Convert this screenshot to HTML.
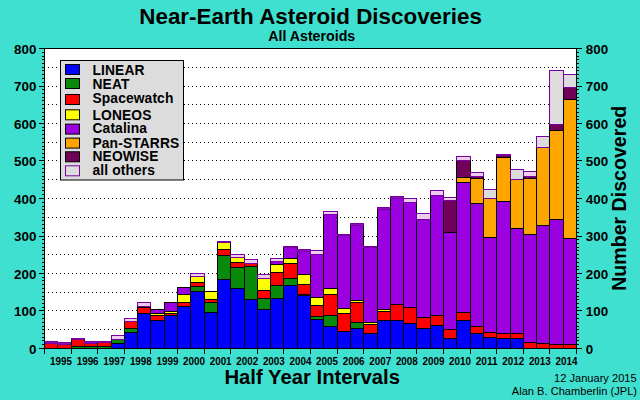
<!DOCTYPE html><html><head><meta charset="utf-8"><style>
html,body{margin:0;padding:0;background:#40e0d0;}
svg{display:block;}
text{font-family:"Liberation Sans",sans-serif;}
</style></head><body>
<svg width="640" height="400" viewBox="0 0 640 400">
<rect x="0" y="0" width="640" height="400" fill="#40e0d0"/>
<rect x="44" y="48" width="532" height="300" fill="#ffffff"/>
<path d="M48 329.5H576M48 310.5H576M48 292.5H576M48 273.5H576M48 254.5H576M48 236.5H576M48 217.5H576M48 198.5H576M48 179.5H576M48 160.5H576M48 142.5H576M48 123.5H576M48 104.5H576M48 86.5H576M48 67.5H576" stroke="#000" stroke-width="1" stroke-dasharray="1 3" fill="none"/>
<rect x="44.50" y="343.50" width="13.00" height="5.00" fill="#ff0000" stroke="#000" stroke-width="1"/>
<rect x="44.50" y="341.50" width="13.00" height="2.00" fill="#8a10b8" stroke="#7800a0" stroke-width="1"/>
<rect x="57.50" y="344.50" width="14.00" height="4.00" fill="#ff0000" stroke="#000" stroke-width="1"/>
<rect x="57.50" y="342.50" width="14.00" height="2.00" fill="#8a10b8" stroke="#7800a0" stroke-width="1"/>
<rect x="71.50" y="346.50" width="13.00" height="2.00" fill="#0a8a0a" stroke="#000" stroke-width="1"/>
<rect x="71.50" y="339.50" width="13.00" height="7.00" fill="#ff0000" stroke="#000" stroke-width="1"/>
<rect x="71.50" y="338.50" width="13.00" height="1.00" fill="#8a10b8" stroke="#7800a0" stroke-width="1"/>
<rect x="84.50" y="346.50" width="13.00" height="2.00" fill="#0a8a0a" stroke="#000" stroke-width="1"/>
<rect x="84.50" y="343.50" width="13.00" height="3.00" fill="#ff0000" stroke="#000" stroke-width="1"/>
<rect x="84.50" y="341.50" width="13.00" height="2.00" fill="#8a10b8" stroke="#7800a0" stroke-width="1"/>
<rect x="97.50" y="346.50" width="14.00" height="2.00" fill="#0a8a0a" stroke="#000" stroke-width="1"/>
<rect x="97.50" y="342.50" width="14.00" height="4.00" fill="#ff0000" stroke="#000" stroke-width="1"/>
<rect x="97.50" y="341.50" width="14.00" height="1.00" fill="#8a10b8" stroke="#7800a0" stroke-width="1"/>
<rect x="111.50" y="343.50" width="13.00" height="5.00" fill="#0000ff" stroke="#000" stroke-width="1"/>
<rect x="111.50" y="339.50" width="13.00" height="4.00" fill="#0a8a0a" stroke="#000" stroke-width="1"/>
<rect x="111.50" y="335.50" width="13.00" height="4.00" fill="#eccdec" stroke="#7800a0" stroke-width="1"/>
<rect x="124.50" y="332.50" width="13.00" height="16.00" fill="#0000ff" stroke="#000" stroke-width="1"/>
<rect x="124.50" y="328.50" width="13.00" height="4.00" fill="#0a8a0a" stroke="#000" stroke-width="1"/>
<rect x="124.50" y="321.50" width="13.00" height="7.00" fill="#ff0000" stroke="#000" stroke-width="1"/>
<rect x="124.50" y="318.50" width="13.00" height="3.00" fill="#eccdec" stroke="#7800a0" stroke-width="1"/>
<rect x="137.50" y="313.50" width="13.00" height="35.00" fill="#0000ff" stroke="#000" stroke-width="1"/>
<rect x="137.50" y="307.50" width="13.00" height="6.00" fill="#ff0000" stroke="#000" stroke-width="1"/>
<rect x="137.50" y="306.50" width="13.00" height="1.00" fill="#ffff00" stroke="#000" stroke-width="1"/>
<rect x="137.50" y="302.50" width="13.00" height="4.00" fill="#eccdec" stroke="#7800a0" stroke-width="1"/>
<rect x="150.50" y="320.50" width="14.00" height="28.00" fill="#0000ff" stroke="#000" stroke-width="1"/>
<rect x="150.50" y="315.50" width="14.00" height="5.00" fill="#ff0000" stroke="#000" stroke-width="1"/>
<rect x="150.50" y="313.50" width="14.00" height="2.00" fill="#ffff00" stroke="#000" stroke-width="1"/>
<rect x="150.50" y="309.50" width="14.00" height="4.00" fill="#9a00e0" stroke="#000" stroke-width="1"/>
<rect x="164.50" y="315.50" width="13.00" height="33.00" fill="#0000ff" stroke="#000" stroke-width="1"/>
<rect x="164.50" y="313.50" width="13.00" height="2.00" fill="#ff0000" stroke="#000" stroke-width="1"/>
<rect x="164.50" y="311.50" width="13.00" height="2.00" fill="#ffff00" stroke="#000" stroke-width="1"/>
<rect x="164.50" y="302.50" width="13.00" height="9.00" fill="#9a00e0" stroke="#000" stroke-width="1"/>
<rect x="177.50" y="306.50" width="13.00" height="42.00" fill="#0000ff" stroke="#000" stroke-width="1"/>
<rect x="177.50" y="302.50" width="13.00" height="4.00" fill="#ff0000" stroke="#000" stroke-width="1"/>
<rect x="177.50" y="294.50" width="13.00" height="8.00" fill="#ffff00" stroke="#000" stroke-width="1"/>
<rect x="177.50" y="287.50" width="13.00" height="7.00" fill="#9a00e0" stroke="#000" stroke-width="1"/>
<rect x="190.50" y="291.50" width="14.00" height="57.00" fill="#0000ff" stroke="#000" stroke-width="1"/>
<rect x="190.50" y="286.50" width="14.00" height="5.00" fill="#0a8a0a" stroke="#000" stroke-width="1"/>
<rect x="190.50" y="282.50" width="14.00" height="4.00" fill="#ff0000" stroke="#000" stroke-width="1"/>
<rect x="190.50" y="276.50" width="14.00" height="6.00" fill="#ffff00" stroke="#000" stroke-width="1"/>
<rect x="190.50" y="273.50" width="14.00" height="3.00" fill="#eccdec" stroke="#7800a0" stroke-width="1"/>
<rect x="204.50" y="312.50" width="13.00" height="36.00" fill="#0000ff" stroke="#000" stroke-width="1"/>
<rect x="204.50" y="302.50" width="13.00" height="10.00" fill="#0a8a0a" stroke="#000" stroke-width="1"/>
<rect x="204.50" y="299.50" width="13.00" height="3.00" fill="#ff0000" stroke="#000" stroke-width="1"/>
<rect x="204.50" y="291.50" width="13.00" height="8.00" fill="#ffff00" stroke="#000" stroke-width="1"/>
<rect x="217.50" y="279.50" width="13.00" height="69.00" fill="#0000ff" stroke="#000" stroke-width="1"/>
<rect x="217.50" y="255.50" width="13.00" height="24.00" fill="#0a8a0a" stroke="#000" stroke-width="1"/>
<rect x="217.50" y="249.50" width="13.00" height="6.00" fill="#ff0000" stroke="#000" stroke-width="1"/>
<rect x="217.50" y="242.50" width="13.00" height="7.00" fill="#ffff00" stroke="#000" stroke-width="1"/>
<rect x="217.50" y="241.50" width="13.00" height="1.00" fill="#8a10b8" stroke="#7800a0" stroke-width="1"/>
<rect x="230.50" y="288.50" width="14.00" height="60.00" fill="#0000ff" stroke="#000" stroke-width="1"/>
<rect x="230.50" y="267.50" width="14.00" height="21.00" fill="#0a8a0a" stroke="#000" stroke-width="1"/>
<rect x="230.50" y="262.50" width="14.00" height="5.00" fill="#ff0000" stroke="#000" stroke-width="1"/>
<rect x="230.50" y="257.50" width="14.00" height="5.00" fill="#ffff00" stroke="#000" stroke-width="1"/>
<rect x="230.50" y="254.50" width="14.00" height="3.00" fill="#eccdec" stroke="#7800a0" stroke-width="1"/>
<rect x="244.50" y="299.50" width="13.00" height="49.00" fill="#0000ff" stroke="#000" stroke-width="1"/>
<rect x="244.50" y="266.50" width="13.00" height="33.00" fill="#0a8a0a" stroke="#000" stroke-width="1"/>
<rect x="244.50" y="263.50" width="13.00" height="3.00" fill="#ff0000" stroke="#000" stroke-width="1"/>
<rect x="244.50" y="259.50" width="13.00" height="4.00" fill="#eccdec" stroke="#7800a0" stroke-width="1"/>
<rect x="257.50" y="309.50" width="13.00" height="39.00" fill="#0000ff" stroke="#000" stroke-width="1"/>
<rect x="257.50" y="298.50" width="13.00" height="11.00" fill="#0a8a0a" stroke="#000" stroke-width="1"/>
<rect x="257.50" y="290.50" width="13.00" height="8.00" fill="#ff0000" stroke="#000" stroke-width="1"/>
<rect x="257.50" y="278.50" width="13.00" height="12.00" fill="#ffff00" stroke="#000" stroke-width="1"/>
<rect x="257.50" y="274.50" width="13.00" height="4.00" fill="#eccdec" stroke="#7800a0" stroke-width="1"/>
<rect x="270.50" y="298.50" width="13.00" height="50.00" fill="#0000ff" stroke="#000" stroke-width="1"/>
<rect x="270.50" y="285.50" width="13.00" height="13.00" fill="#0a8a0a" stroke="#000" stroke-width="1"/>
<rect x="270.50" y="272.50" width="13.00" height="13.00" fill="#ff0000" stroke="#000" stroke-width="1"/>
<rect x="270.50" y="264.50" width="13.00" height="8.00" fill="#ffff00" stroke="#000" stroke-width="1"/>
<rect x="270.50" y="261.50" width="13.00" height="3.00" fill="#9a00e0" stroke="#000" stroke-width="1"/>
<rect x="270.50" y="258.50" width="13.00" height="3.00" fill="#eccdec" stroke="#7800a0" stroke-width="1"/>
<rect x="283.50" y="285.50" width="14.00" height="63.00" fill="#0000ff" stroke="#000" stroke-width="1"/>
<rect x="283.50" y="278.50" width="14.00" height="7.00" fill="#0a8a0a" stroke="#000" stroke-width="1"/>
<rect x="283.50" y="263.50" width="14.00" height="15.00" fill="#ff0000" stroke="#000" stroke-width="1"/>
<rect x="283.50" y="258.50" width="14.00" height="5.00" fill="#ffff00" stroke="#000" stroke-width="1"/>
<rect x="283.50" y="247.50" width="14.00" height="11.00" fill="#9a00e0" stroke="#000" stroke-width="1"/>
<rect x="283.50" y="246.50" width="14.00" height="1.00" fill="#8a10b8" stroke="#7800a0" stroke-width="1"/>
<rect x="297.50" y="295.50" width="13.00" height="53.00" fill="#0000ff" stroke="#000" stroke-width="1"/>
<rect x="297.50" y="294.50" width="13.00" height="1.00" fill="#0a8a0a" stroke="#000" stroke-width="1"/>
<rect x="297.50" y="284.50" width="13.00" height="10.00" fill="#ff0000" stroke="#000" stroke-width="1"/>
<rect x="297.50" y="274.50" width="13.00" height="10.00" fill="#ffff00" stroke="#000" stroke-width="1"/>
<rect x="297.50" y="251.50" width="13.00" height="23.00" fill="#9a00e0" stroke="#000" stroke-width="1"/>
<rect x="297.50" y="249.50" width="13.00" height="2.00" fill="#8a10b8" stroke="#7800a0" stroke-width="1"/>
<rect x="310.50" y="319.50" width="13.00" height="29.00" fill="#0000ff" stroke="#000" stroke-width="1"/>
<rect x="310.50" y="316.50" width="13.00" height="3.00" fill="#0a8a0a" stroke="#000" stroke-width="1"/>
<rect x="310.50" y="305.50" width="13.00" height="11.00" fill="#ff0000" stroke="#000" stroke-width="1"/>
<rect x="310.50" y="297.50" width="13.00" height="8.00" fill="#ffff00" stroke="#000" stroke-width="1"/>
<rect x="310.50" y="254.50" width="13.00" height="43.00" fill="#9a00e0" stroke="#000" stroke-width="1"/>
<rect x="310.50" y="250.50" width="13.00" height="4.00" fill="#eccdec" stroke="#7800a0" stroke-width="1"/>
<rect x="323.50" y="326.50" width="14.00" height="22.00" fill="#0000ff" stroke="#000" stroke-width="1"/>
<rect x="323.50" y="315.50" width="14.00" height="11.00" fill="#0a8a0a" stroke="#000" stroke-width="1"/>
<rect x="323.50" y="294.50" width="14.00" height="21.00" fill="#ff0000" stroke="#000" stroke-width="1"/>
<rect x="323.50" y="288.50" width="14.00" height="6.00" fill="#ffff00" stroke="#000" stroke-width="1"/>
<rect x="323.50" y="214.50" width="14.00" height="74.00" fill="#9a00e0" stroke="#000" stroke-width="1"/>
<rect x="323.50" y="211.50" width="14.00" height="3.00" fill="#eccdec" stroke="#7800a0" stroke-width="1"/>
<rect x="337.50" y="331.50" width="13.00" height="17.00" fill="#0000ff" stroke="#000" stroke-width="1"/>
<rect x="337.50" y="313.50" width="13.00" height="18.00" fill="#ff0000" stroke="#000" stroke-width="1"/>
<rect x="337.50" y="308.50" width="13.00" height="5.00" fill="#ffff00" stroke="#000" stroke-width="1"/>
<rect x="337.50" y="235.50" width="13.00" height="73.00" fill="#9a00e0" stroke="#000" stroke-width="1"/>
<rect x="337.50" y="234.50" width="13.00" height="1.00" fill="#8a10b8" stroke="#7800a0" stroke-width="1"/>
<rect x="350.50" y="328.50" width="13.00" height="20.00" fill="#0000ff" stroke="#000" stroke-width="1"/>
<rect x="350.50" y="322.50" width="13.00" height="6.00" fill="#0a8a0a" stroke="#000" stroke-width="1"/>
<rect x="350.50" y="302.50" width="13.00" height="20.00" fill="#ff0000" stroke="#000" stroke-width="1"/>
<rect x="350.50" y="300.50" width="13.00" height="2.00" fill="#ffff00" stroke="#000" stroke-width="1"/>
<rect x="350.50" y="225.50" width="13.00" height="75.00" fill="#9a00e0" stroke="#000" stroke-width="1"/>
<rect x="350.50" y="223.50" width="13.00" height="2.00" fill="#8a10b8" stroke="#7800a0" stroke-width="1"/>
<rect x="363.50" y="333.50" width="14.00" height="15.00" fill="#0000ff" stroke="#000" stroke-width="1"/>
<rect x="363.50" y="324.50" width="14.00" height="9.00" fill="#ff0000" stroke="#000" stroke-width="1"/>
<rect x="363.50" y="322.50" width="14.00" height="2.00" fill="#ffff00" stroke="#000" stroke-width="1"/>
<rect x="363.50" y="247.50" width="14.00" height="75.00" fill="#9a00e0" stroke="#000" stroke-width="1"/>
<rect x="363.50" y="246.50" width="14.00" height="1.00" fill="#8a10b8" stroke="#7800a0" stroke-width="1"/>
<rect x="377.50" y="320.50" width="13.00" height="28.00" fill="#0000ff" stroke="#000" stroke-width="1"/>
<rect x="377.50" y="311.50" width="13.00" height="9.00" fill="#ff0000" stroke="#000" stroke-width="1"/>
<rect x="377.50" y="309.50" width="13.00" height="2.00" fill="#ffff00" stroke="#000" stroke-width="1"/>
<rect x="377.50" y="209.50" width="13.00" height="100.00" fill="#9a00e0" stroke="#000" stroke-width="1"/>
<rect x="377.50" y="207.50" width="13.00" height="2.00" fill="#8a10b8" stroke="#7800a0" stroke-width="1"/>
<rect x="390.50" y="320.50" width="13.00" height="28.00" fill="#0000ff" stroke="#000" stroke-width="1"/>
<rect x="390.50" y="304.50" width="13.00" height="16.00" fill="#ff0000" stroke="#000" stroke-width="1"/>
<rect x="390.50" y="198.50" width="13.00" height="106.00" fill="#9a00e0" stroke="#000" stroke-width="1"/>
<rect x="390.50" y="196.50" width="13.00" height="2.00" fill="#8a10b8" stroke="#7800a0" stroke-width="1"/>
<rect x="403.50" y="323.50" width="13.00" height="25.00" fill="#0000ff" stroke="#000" stroke-width="1"/>
<rect x="403.50" y="307.50" width="13.00" height="16.00" fill="#ff0000" stroke="#000" stroke-width="1"/>
<rect x="403.50" y="202.50" width="13.00" height="105.00" fill="#9a00e0" stroke="#000" stroke-width="1"/>
<rect x="403.50" y="198.50" width="13.00" height="4.00" fill="#eccdec" stroke="#7800a0" stroke-width="1"/>
<rect x="416.50" y="328.50" width="14.00" height="20.00" fill="#0000ff" stroke="#000" stroke-width="1"/>
<rect x="416.50" y="317.50" width="14.00" height="11.00" fill="#ff0000" stroke="#000" stroke-width="1"/>
<rect x="416.50" y="219.50" width="14.00" height="98.00" fill="#9a00e0" stroke="#000" stroke-width="1"/>
<rect x="416.50" y="213.50" width="14.00" height="6.00" fill="#eccdec" stroke="#7800a0" stroke-width="1"/>
<rect x="430.50" y="325.50" width="13.00" height="23.00" fill="#0000ff" stroke="#000" stroke-width="1"/>
<rect x="430.50" y="315.50" width="13.00" height="10.00" fill="#ff0000" stroke="#000" stroke-width="1"/>
<rect x="430.50" y="195.50" width="13.00" height="120.00" fill="#9a00e0" stroke="#000" stroke-width="1"/>
<rect x="430.50" y="190.50" width="13.00" height="5.00" fill="#eccdec" stroke="#7800a0" stroke-width="1"/>
<rect x="443.50" y="338.50" width="13.00" height="10.00" fill="#0000ff" stroke="#000" stroke-width="1"/>
<rect x="443.50" y="329.50" width="13.00" height="9.00" fill="#ff0000" stroke="#000" stroke-width="1"/>
<rect x="443.50" y="232.50" width="13.00" height="97.00" fill="#9a00e0" stroke="#000" stroke-width="1"/>
<rect x="443.50" y="200.50" width="13.00" height="32.00" fill="#700058" stroke="#000" stroke-width="1"/>
<rect x="443.50" y="197.50" width="13.00" height="3.00" fill="#eccdec" stroke="#7800a0" stroke-width="1"/>
<rect x="456.50" y="320.50" width="14.00" height="28.00" fill="#0000ff" stroke="#000" stroke-width="1"/>
<rect x="456.50" y="312.50" width="14.00" height="8.00" fill="#ff0000" stroke="#000" stroke-width="1"/>
<rect x="456.50" y="182.50" width="14.00" height="130.00" fill="#9a00e0" stroke="#000" stroke-width="1"/>
<rect x="456.50" y="177.50" width="14.00" height="5.00" fill="#ffa500" stroke="#000" stroke-width="1"/>
<rect x="456.50" y="160.50" width="14.00" height="17.00" fill="#700058" stroke="#000" stroke-width="1"/>
<rect x="456.50" y="156.50" width="14.00" height="4.00" fill="#eccdec" stroke="#7800a0" stroke-width="1"/>
<rect x="470.50" y="333.50" width="13.00" height="15.00" fill="#0000ff" stroke="#000" stroke-width="1"/>
<rect x="470.50" y="326.50" width="13.00" height="7.00" fill="#ff0000" stroke="#000" stroke-width="1"/>
<rect x="470.50" y="203.50" width="13.00" height="123.00" fill="#9a00e0" stroke="#000" stroke-width="1"/>
<rect x="470.50" y="178.50" width="13.00" height="25.00" fill="#ffa500" stroke="#000" stroke-width="1"/>
<rect x="470.50" y="176.50" width="13.00" height="2.00" fill="#700058" stroke="#000" stroke-width="1"/>
<rect x="470.50" y="172.50" width="13.00" height="4.00" fill="#eccdec" stroke="#7800a0" stroke-width="1"/>
<rect x="483.50" y="337.50" width="13.00" height="11.00" fill="#0000ff" stroke="#000" stroke-width="1"/>
<rect x="483.50" y="332.50" width="13.00" height="5.00" fill="#ff0000" stroke="#000" stroke-width="1"/>
<rect x="483.50" y="237.50" width="13.00" height="95.00" fill="#9a00e0" stroke="#000" stroke-width="1"/>
<rect x="483.50" y="198.50" width="13.00" height="39.00" fill="#ffa500" stroke="#000" stroke-width="1"/>
<rect x="483.50" y="189.50" width="13.00" height="9.00" fill="#dcdcdc" stroke="#7800a0" stroke-width="1"/>
<rect x="496.50" y="338.50" width="14.00" height="10.00" fill="#0000ff" stroke="#000" stroke-width="1"/>
<rect x="496.50" y="333.50" width="14.00" height="5.00" fill="#ff0000" stroke="#000" stroke-width="1"/>
<rect x="496.50" y="201.50" width="14.00" height="132.00" fill="#9a00e0" stroke="#000" stroke-width="1"/>
<rect x="496.50" y="157.50" width="14.00" height="44.00" fill="#ffa500" stroke="#000" stroke-width="1"/>
<rect x="496.50" y="155.50" width="14.00" height="2.00" fill="#700058" stroke="#000" stroke-width="1"/>
<rect x="496.50" y="154.50" width="14.00" height="1.00" fill="#8a10b8" stroke="#7800a0" stroke-width="1"/>
<rect x="510.50" y="338.50" width="13.00" height="10.00" fill="#0000ff" stroke="#000" stroke-width="1"/>
<rect x="510.50" y="333.50" width="13.00" height="5.00" fill="#ff0000" stroke="#000" stroke-width="1"/>
<rect x="510.50" y="228.50" width="13.00" height="105.00" fill="#9a00e0" stroke="#000" stroke-width="1"/>
<rect x="510.50" y="179.50" width="13.00" height="49.00" fill="#ffa500" stroke="#000" stroke-width="1"/>
<rect x="510.50" y="169.50" width="13.00" height="10.00" fill="#dcdcdc" stroke="#7800a0" stroke-width="1"/>
<rect x="523.50" y="342.50" width="13.00" height="6.00" fill="#ff0000" stroke="#000" stroke-width="1"/>
<rect x="523.50" y="234.50" width="13.00" height="108.00" fill="#9a00e0" stroke="#000" stroke-width="1"/>
<rect x="523.50" y="178.50" width="13.00" height="56.00" fill="#ffa500" stroke="#000" stroke-width="1"/>
<rect x="523.50" y="176.50" width="13.00" height="2.00" fill="#700058" stroke="#000" stroke-width="1"/>
<rect x="523.50" y="171.50" width="13.00" height="5.00" fill="#eccdec" stroke="#7800a0" stroke-width="1"/>
<rect x="536.50" y="343.50" width="13.00" height="5.00" fill="#ff0000" stroke="#000" stroke-width="1"/>
<rect x="536.50" y="225.50" width="13.00" height="118.00" fill="#9a00e0" stroke="#000" stroke-width="1"/>
<rect x="536.50" y="147.50" width="13.00" height="78.00" fill="#ffa500" stroke="#000" stroke-width="1"/>
<rect x="536.50" y="136.50" width="13.00" height="11.00" fill="#dcdcdc" stroke="#7800a0" stroke-width="1"/>
<rect x="549.50" y="344.50" width="14.00" height="4.00" fill="#ff0000" stroke="#000" stroke-width="1"/>
<rect x="549.50" y="219.50" width="14.00" height="125.00" fill="#9a00e0" stroke="#000" stroke-width="1"/>
<rect x="549.50" y="130.50" width="14.00" height="89.00" fill="#ffa500" stroke="#000" stroke-width="1"/>
<rect x="549.50" y="124.50" width="14.00" height="6.00" fill="#700058" stroke="#000" stroke-width="1"/>
<rect x="549.50" y="70.50" width="14.00" height="54.00" fill="#dcdcdc" stroke="#7800a0" stroke-width="1"/>
<rect x="563.50" y="344.50" width="13.00" height="4.00" fill="#ff0000" stroke="#000" stroke-width="1"/>
<rect x="563.50" y="238.50" width="13.00" height="106.00" fill="#9a00e0" stroke="#000" stroke-width="1"/>
<rect x="563.50" y="99.50" width="13.00" height="139.00" fill="#ffa500" stroke="#000" stroke-width="1"/>
<rect x="563.50" y="87.50" width="13.00" height="12.00" fill="#700058" stroke="#000" stroke-width="1"/>
<rect x="563.50" y="74.50" width="13.00" height="13.00" fill="#dcdcdc" stroke="#7800a0" stroke-width="1"/>
<rect x="60.5" y="60.5" width="123" height="119.5" fill="#dcdcdc" stroke="#000" stroke-width="1"/>
<rect x="65.5" y="64.5" width="14" height="10" fill="#0000ff" stroke="#000" stroke-width="1"/>
<text x="92.5" y="74.8" font-size="13.8" font-weight="bold" letter-spacing="0.12" fill="#000">LINEAR</text>
<rect x="65.5" y="78.5" width="14" height="10" fill="#0a8a0a" stroke="#000" stroke-width="1"/>
<text x="92.5" y="88.6" font-size="13.8" font-weight="bold" letter-spacing="0.12" fill="#000">NEAT</text>
<rect x="65.5" y="94.5" width="14" height="10" fill="#ff0000" stroke="#000" stroke-width="1"/>
<text x="92.5" y="102.5" font-size="13.8" font-weight="bold" letter-spacing="0.12" fill="#000">Spacewatch</text>
<rect x="65.5" y="109.8" width="14" height="10" fill="#ffff00" stroke="#000" stroke-width="1"/>
<text x="92.5" y="119.5" font-size="13.8" font-weight="bold" letter-spacing="0.12" fill="#000">LONEOS</text>
<rect x="65.5" y="124.1" width="14" height="10" fill="#9a00e0" stroke="#000" stroke-width="1"/>
<text x="92.5" y="133.4" font-size="13.8" font-weight="bold" letter-spacing="0.12" fill="#000">Catalina</text>
<rect x="65.5" y="138.1" width="14" height="10" fill="#ffa500" stroke="#000" stroke-width="1"/>
<text x="92.5" y="147.7" font-size="13.8" font-weight="bold" letter-spacing="0.12" fill="#000">Pan-STARRS</text>
<rect x="65.5" y="151.8" width="14" height="10" fill="#700058" stroke="#000" stroke-width="1"/>
<text x="92.5" y="161.4" font-size="13.8" font-weight="bold" letter-spacing="0.12" fill="#000">NEOWISE</text>
<rect x="65.5" y="165.8" width="14" height="10" fill="#dcdcdc" stroke="#7800a0" stroke-width="1"/>
<text x="92.5" y="175.4" font-size="13.8" font-weight="bold" letter-spacing="0.12" fill="#000">all others</text>
<path d="M44.5 48V354M44 48.5H577M576.5 48V349M44 348.5H577" stroke="#000" stroke-width="1" fill="none"/>
<path d="M39 348.5H44M577 348.5H582M42 344.5H44M577 344.5H579M42 340.5H44M577 340.5H579M42 337.5H44M577 337.5H579M42 333.5H44M577 333.5H579M42 329.5H44M577 329.5H579M42 326.5H44M577 326.5H579M42 322.5H44M577 322.5H579M42 318.5H44M577 318.5H579M42 314.5H44M577 314.5H579M39 310.5H44M577 310.5H582M42 307.5H44M577 307.5H579M42 303.5H44M577 303.5H579M42 299.5H44M577 299.5H579M42 296.5H44M577 296.5H579M42 292.5H44M577 292.5H579M42 288.5H44M577 288.5H579M42 284.5H44M577 284.5H579M42 280.5H44M577 280.5H579M42 277.5H44M577 277.5H579M39 273.5H44M577 273.5H582M42 269.5H44M577 269.5H579M42 266.5H44M577 266.5H579M42 262.5H44M577 262.5H579M42 258.5H44M577 258.5H579M42 254.5H44M577 254.5H579M42 250.5H44M577 250.5H579M42 247.5H44M577 247.5H579M42 243.5H44M577 243.5H579M42 239.5H44M577 239.5H579M39 236.5H44M577 236.5H582M42 232.5H44M577 232.5H579M42 228.5H44M577 228.5H579M42 224.5H44M577 224.5H579M42 220.5H44M577 220.5H579M42 217.5H44M577 217.5H579M42 213.5H44M577 213.5H579M42 209.5H44M577 209.5H579M42 206.5H44M577 206.5H579M42 202.5H44M577 202.5H579M39 198.5H44M577 198.5H582M42 194.5H44M577 194.5H579M42 190.5H44M577 190.5H579M42 187.5H44M577 187.5H579M42 183.5H44M577 183.5H579M42 179.5H44M577 179.5H579M42 176.5H44M577 176.5H579M42 172.5H44M577 172.5H579M42 168.5H44M577 168.5H579M42 164.5H44M577 164.5H579M39 160.5H44M577 160.5H582M42 157.5H44M577 157.5H579M42 153.5H44M577 153.5H579M42 149.5H44M577 149.5H579M42 146.5H44M577 146.5H579M42 142.5H44M577 142.5H579M42 138.5H44M577 138.5H579M42 134.5H44M577 134.5H579M42 130.5H44M577 130.5H579M42 127.5H44M577 127.5H579M39 123.5H44M577 123.5H582M42 119.5H44M577 119.5H579M42 116.5H44M577 116.5H579M42 112.5H44M577 112.5H579M42 108.5H44M577 108.5H579M42 104.5H44M577 104.5H579M42 100.5H44M577 100.5H579M42 97.5H44M577 97.5H579M42 93.5H44M577 93.5H579M42 89.5H44M577 89.5H579M39 86.5H44M577 86.5H582M42 82.5H44M577 82.5H579M42 78.5H44M577 78.5H579M42 74.5H44M577 74.5H579M42 70.5H44M577 70.5H579M42 67.5H44M577 67.5H579M42 63.5H44M577 63.5H579M42 59.5H44M577 59.5H579M42 56.5H44M577 56.5H579M42 52.5H44M577 52.5H579M39 48.5H44M577 48.5H582M44.5 348V354M71.5 348V354M97.5 348V354M124.5 348V354M150.5 348V354M177.5 348V354M204.5 348V354M230.5 348V354M257.5 348V354M283.5 348V354M310.5 348V354M337.5 348V354M363.5 348V354M390.5 348V354M416.5 348V354M443.5 348V354M470.5 348V354M496.5 348V354M523.5 348V354M549.5 348V354M576.5 348V354" stroke="#000" stroke-width="1" fill="none"/>
<text x="36.4" y="353.8" font-size="13.4" font-weight="bold" text-anchor="end">0</text>
<text x="585.8" y="353.8" font-size="13.4" font-weight="bold">0</text>
<text x="36.4" y="316.3" font-size="13.4" font-weight="bold" text-anchor="end">100</text>
<text x="585.8" y="316.3" font-size="13.4" font-weight="bold">100</text>
<text x="36.4" y="278.8" font-size="13.4" font-weight="bold" text-anchor="end">200</text>
<text x="585.8" y="278.8" font-size="13.4" font-weight="bold">200</text>
<text x="36.4" y="241.3" font-size="13.4" font-weight="bold" text-anchor="end">300</text>
<text x="585.8" y="241.3" font-size="13.4" font-weight="bold">300</text>
<text x="36.4" y="203.8" font-size="13.4" font-weight="bold" text-anchor="end">400</text>
<text x="585.8" y="203.8" font-size="13.4" font-weight="bold">400</text>
<text x="36.4" y="166.3" font-size="13.4" font-weight="bold" text-anchor="end">500</text>
<text x="585.8" y="166.3" font-size="13.4" font-weight="bold">500</text>
<text x="36.4" y="128.8" font-size="13.4" font-weight="bold" text-anchor="end">600</text>
<text x="585.8" y="128.8" font-size="13.4" font-weight="bold">600</text>
<text x="36.4" y="91.3" font-size="13.4" font-weight="bold" text-anchor="end">700</text>
<text x="585.8" y="91.3" font-size="13.4" font-weight="bold">700</text>
<text x="36.4" y="53.8" font-size="13.4" font-weight="bold" text-anchor="end">800</text>
<text x="585.8" y="53.8" font-size="13.4" font-weight="bold">800</text>
<text x="50.1" y="364.8" font-size="10.2" font-weight="bold" textLength="21.9" lengthAdjust="spacingAndGlyphs">1995</text>
<text x="76.7" y="364.8" font-size="10.2" font-weight="bold" textLength="21.9" lengthAdjust="spacingAndGlyphs">1996</text>
<text x="103.3" y="364.8" font-size="10.2" font-weight="bold" textLength="21.9" lengthAdjust="spacingAndGlyphs">1997</text>
<text x="129.9" y="364.8" font-size="10.2" font-weight="bold" textLength="21.9" lengthAdjust="spacingAndGlyphs">1998</text>
<text x="156.5" y="364.8" font-size="10.2" font-weight="bold" textLength="21.9" lengthAdjust="spacingAndGlyphs">1999</text>
<text x="183.1" y="364.8" font-size="10.2" font-weight="bold" textLength="21.9" lengthAdjust="spacingAndGlyphs">2000</text>
<text x="209.7" y="364.8" font-size="10.2" font-weight="bold" textLength="21.9" lengthAdjust="spacingAndGlyphs">2001</text>
<text x="236.3" y="364.8" font-size="10.2" font-weight="bold" textLength="21.9" lengthAdjust="spacingAndGlyphs">2002</text>
<text x="262.9" y="364.8" font-size="10.2" font-weight="bold" textLength="21.9" lengthAdjust="spacingAndGlyphs">2003</text>
<text x="289.5" y="364.8" font-size="10.2" font-weight="bold" textLength="21.9" lengthAdjust="spacingAndGlyphs">2004</text>
<text x="316.1" y="364.8" font-size="10.2" font-weight="bold" textLength="21.9" lengthAdjust="spacingAndGlyphs">2005</text>
<text x="342.7" y="364.8" font-size="10.2" font-weight="bold" textLength="21.9" lengthAdjust="spacingAndGlyphs">2006</text>
<text x="369.3" y="364.8" font-size="10.2" font-weight="bold" textLength="21.9" lengthAdjust="spacingAndGlyphs">2007</text>
<text x="395.9" y="364.8" font-size="10.2" font-weight="bold" textLength="21.9" lengthAdjust="spacingAndGlyphs">2008</text>
<text x="422.5" y="364.8" font-size="10.2" font-weight="bold" textLength="21.9" lengthAdjust="spacingAndGlyphs">2009</text>
<text x="449.1" y="364.8" font-size="10.2" font-weight="bold" textLength="21.9" lengthAdjust="spacingAndGlyphs">2010</text>
<text x="475.7" y="364.8" font-size="10.2" font-weight="bold" textLength="21.9" lengthAdjust="spacingAndGlyphs">2011</text>
<text x="502.3" y="364.8" font-size="10.2" font-weight="bold" textLength="21.9" lengthAdjust="spacingAndGlyphs">2012</text>
<text x="528.9" y="364.8" font-size="10.2" font-weight="bold" textLength="21.9" lengthAdjust="spacingAndGlyphs">2013</text>
<text x="555.5" y="364.8" font-size="10.2" font-weight="bold" textLength="21.9" lengthAdjust="spacingAndGlyphs">2014</text>
<text x="310.6" y="23.6" font-size="22.4" font-weight="bold" text-anchor="middle">Near-Earth Asteroid Discoveries</text>
<text x="311.7" y="40.8" font-size="14.2" font-weight="bold" text-anchor="middle">All Asteroids</text>
<text x="312.2" y="383.7" font-size="20.3" font-weight="bold" text-anchor="middle">Half Year Intervals</text>
<text transform="translate(626,198.3) rotate(-90)" x="0" y="0" font-size="19.6" font-weight="bold" text-anchor="middle">Number Discovered</text>
<text x="636.7" y="381.8" font-size="11.1" text-anchor="end">12 January 2015</text>
<text x="637" y="394.5" font-size="11.1" text-anchor="end">Alan B. Chamberlin (JPL)</text>
</svg></body></html>
